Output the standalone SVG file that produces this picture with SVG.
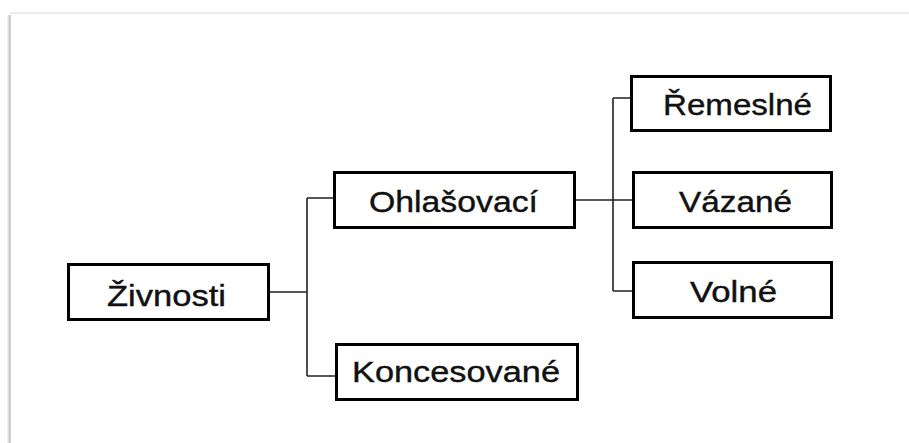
<svg xmlns="http://www.w3.org/2000/svg" width="909" height="443" viewBox="0 0 909 443">
<style>
.box{fill:#fff;stroke:#000;stroke-width:3}
.lbl{font-family:"Liberation Sans",Arial,sans-serif;font-size:30px;fill:#111;stroke:#111;stroke-width:0.4;text-anchor:middle}
.con{fill:none;stroke:#222;stroke-width:1.6}
</style>
<rect x="0" y="0" width="909" height="443" fill="#fff"/>
<g id="frame">
<line x1="10" y1="13" x2="909" y2="13" stroke="#ededed" stroke-width="2"/>
<line x1="9" y1="15" x2="9" y2="443" stroke="#e0e0e0" stroke-width="3"/>
<line x1="10" y1="15" x2="10" y2="443" stroke="#b0b0b0" stroke-width="1"/>
</g>
<g id="connectors">
<path class="con" d="M269 292 H307 M307 198 V376 M307 198 H334 M307 376 H336"/>
<path class="con" d="M575 200 H633 M613 98 V291 M613 98 H631 M613 291 H633"/>
</g>
<g id="zivnosti">
<rect class="box" x="68.500" y="264.500" width="200" height="55"/>
<text class="lbl" x="166.500" y="306" textLength="119" lengthAdjust="spacingAndGlyphs">Živnosti</text>
</g>
<g id="ohlasovaci">
<rect class="box" x="334.500" y="172.500" width="240" height="55"/>
<text class="lbl" x="453.500" y="212" textLength="169" lengthAdjust="spacingAndGlyphs">Ohlašovací</text>
</g>
<g id="koncesovane">
<rect class="box" x="336.500" y="344.500" width="241" height="55"/>
<text class="lbl" x="456" y="382" textLength="208" lengthAdjust="spacingAndGlyphs">Koncesované</text>
</g>
<g id="remeslne">
<rect class="box" x="631.500" y="76.500" width="199" height="54"/>
<text class="lbl" x="737.500" y="115" textLength="149" lengthAdjust="spacingAndGlyphs">Řemeslné</text>
</g>
<g id="vazane">
<rect class="box" x="633.500" y="172.500" width="198" height="55"/>
<text class="lbl" x="735.500" y="212" textLength="113" lengthAdjust="spacingAndGlyphs">Vázané</text>
</g>
<g id="volne">
<rect class="box" x="633.500" y="262.500" width="198" height="55"/>
<text class="lbl" x="733.500" y="302" textLength="87" lengthAdjust="spacingAndGlyphs">Volné</text>
</g>
</svg>
